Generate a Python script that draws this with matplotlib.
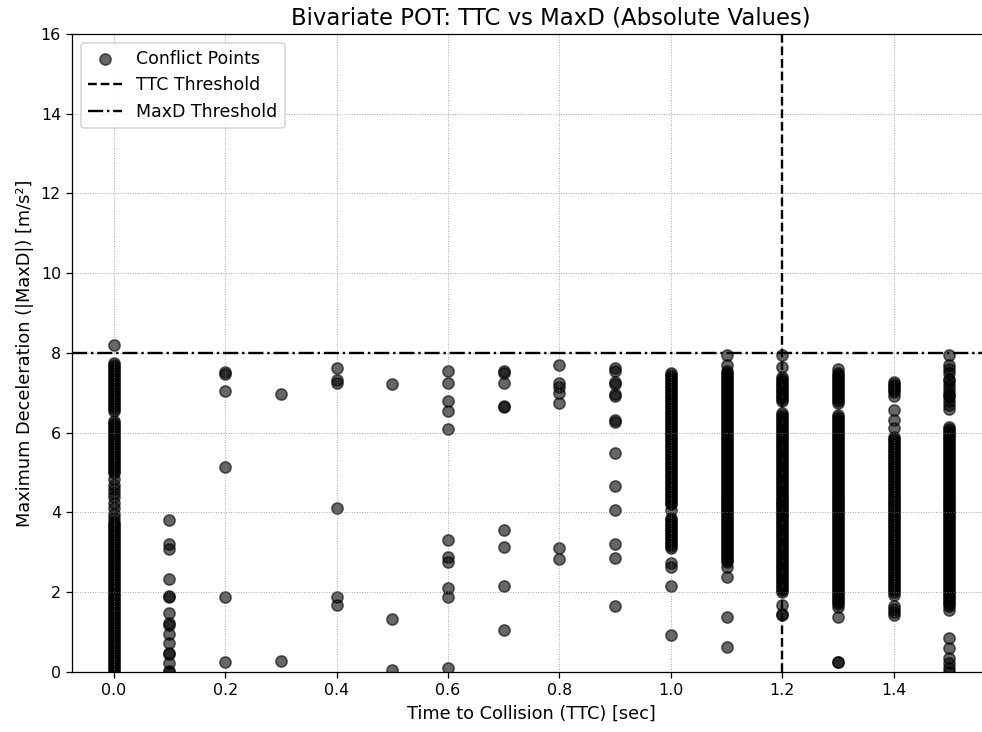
import numpy as np
import matplotlib
matplotlib.use("Agg")
import matplotlib.pyplot as plt

# --- Data: |MaxD| values read per TTC column ---
ttc_levels = [0.0, 0.1, 0.2, 0.3, 0.4, 0.5, 0.6, 0.7, 0.8, 0.9, 1.0, 1.1, 1.2, 1.3, 1.4, 1.5]

maxd_00 = [8.2,
           7.75, 7.7, 7.65, 7.6, 7.55, 7.5, 7.45, 7.4, 7.35, 7.3, 7.25, 7.2, 7.15, 7.1, 7.05,
           7.0, 6.95, 6.9, 6.85, 6.8, 6.75, 6.7, 6.65, 6.6, 6.55,
           6.3, 6.25, 6.2, 6.15, 6.1, 6.05, 6.0, 5.95, 5.9, 5.85, 5.8, 5.75, 5.7, 5.65, 5.6,
           5.55, 5.5, 5.45, 5.4, 5.35, 5.3, 5.25, 5.2, 5.15, 5.1, 5.05, 5.0,
           4.85, 4.7, 4.6, 4.5, 4.4, 4.25, 4.1, 3.95, 3.85,
           3.75, 3.7, 3.65, 3.6, 3.55, 3.5, 3.45, 3.4, 3.35, 3.3, 3.25, 3.2, 3.15, 3.1, 3.05,
           3.0, 2.95, 2.9, 2.85, 2.8, 2.75, 2.7, 2.65, 2.6, 2.55, 2.5, 2.45, 2.4, 2.35, 2.3,
           2.25, 2.2, 2.15, 2.1, 2.05, 2.0, 1.95, 1.9, 1.85, 1.8, 1.75, 1.7, 1.65, 1.6, 1.55,
           1.5, 1.45, 1.4, 1.35, 1.3, 1.25, 1.2, 1.15, 1.1, 1.05, 1.0, 0.95, 0.9, 0.85, 0.8,
           0.75, 0.7, 0.65, 0.6, 0.55, 0.5, 0.45, 0.4, 0.35, 0.3, 0.25, 0.2, 0.15, 0.1, 0.05, 0.0]
maxd_01 = [3.82, 3.2, 3.08, 2.32, 1.9, 1.88, 1.48, 1.22, 1.18, 0.94, 0.72, 0.48, 0.45, 0.22, 0.02, 0.0]
maxd_02 = [7.52, 7.47, 7.05, 5.15, 1.88, 0.25]
maxd_03 = [6.97, 0.28]
maxd_04 = [7.62, 7.32, 7.25, 4.11, 1.88, 1.68]
maxd_05 = [7.22, 1.33, 0.05]
maxd_06 = [7.55, 7.25, 6.8, 6.55, 6.1, 3.31, 2.89, 2.76, 2.11, 1.88, 0.1]
maxd_07 = [7.55, 7.5, 7.25, 6.67, 6.64, 3.56, 3.14, 2.16, 1.05]
maxd_08 = [7.7, 7.25, 7.15, 7.0, 6.75, 3.1, 2.83]
maxd_09 = [7.62, 7.55, 7.27, 7.23, 6.97, 6.93, 6.32, 6.28, 5.49, 4.67, 4.06, 3.21, 2.86, 1.66]
maxd_10 = [7.5, 7.45, 7.4, 7.35, 7.3, 7.25, 7.2, 7.15, 7.1, 7.05, 7.0, 6.95, 6.9, 6.85, 6.8,
           6.75, 6.7, 6.65, 6.6, 6.55, 6.5, 6.45, 6.4, 6.35, 6.3, 6.25, 6.2, 6.15, 6.1, 6.05,
           6.0, 5.95, 5.9, 5.85, 5.8, 5.75, 5.7, 5.65, 5.6, 5.55, 5.5, 5.45, 5.4, 5.35, 5.3,
           5.25, 5.2, 5.15, 5.1, 5.05, 5.0, 4.95, 4.9, 4.85, 4.8, 4.75, 4.7, 4.65, 4.6, 4.55,
           4.5, 4.45, 4.4, 4.35, 4.3, 4.25, 4.2, 4.05,
           3.85, 3.8, 3.75, 3.7, 3.65, 3.6, 3.55, 3.5, 3.45, 3.4, 3.35, 3.3, 3.25, 3.2, 3.15,
           3.1, 2.73, 2.63, 2.16, 0.93]
maxd_11 = [7.95, 7.7,
           7.55, 7.5, 7.45, 7.4, 7.35, 7.3, 7.25, 7.2, 7.15, 7.1, 7.05, 7.0, 6.95, 6.9, 6.85,
           6.8, 6.75, 6.7, 6.65, 6.6, 6.55, 6.5, 6.45, 6.4, 6.35, 6.3, 6.25, 6.2, 6.15, 6.1,
           6.05, 6.0, 5.95, 5.9, 5.85, 5.8, 5.75, 5.7, 5.65, 5.6, 5.55, 5.5, 5.45, 5.4, 5.35,
           5.3, 5.25, 5.2, 5.15, 5.1, 5.05, 5.0, 4.95, 4.9, 4.85, 4.8, 4.75, 4.7, 4.65, 4.6,
           4.55, 4.5, 4.45, 4.4, 4.35, 4.3, 4.25, 4.2, 4.15, 4.1, 4.05, 4.0, 3.95, 3.9, 3.85,
           3.8, 3.75, 3.7, 3.65, 3.6, 3.55, 3.5, 3.45, 3.4, 3.35, 3.3, 3.25, 3.2, 3.15, 3.1,
           3.05, 3.0, 2.95, 2.9, 2.85, 2.8, 2.75,
           2.63, 2.39, 1.38, 0.63]
maxd_12 = [7.95, 7.65,
           7.4, 7.35, 7.3, 7.25, 7.2, 7.15, 7.1, 7.05, 7.0, 6.95, 6.9, 6.85, 6.8,
           6.5, 6.45, 6.4, 6.35, 6.3, 6.25, 6.2, 6.15, 6.1, 6.05, 6.0, 5.95, 5.9, 5.85, 5.8,
           5.75, 5.7, 5.65, 5.6, 5.55, 5.5, 5.45, 5.4, 5.35, 5.3, 5.25, 5.2, 5.15, 5.1, 5.05,
           5.0, 4.95, 4.9, 4.85, 4.8, 4.75, 4.7, 4.65, 4.6, 4.55, 4.5, 4.45, 4.4, 4.35, 4.3,
           4.25, 4.2, 4.15, 4.1, 4.05, 4.0, 3.95, 3.9, 3.85, 3.8, 3.75, 3.7, 3.65, 3.6, 3.55,
           3.5, 3.45, 3.4, 3.35, 3.3, 3.25, 3.2, 3.15, 3.1, 3.05, 3.0, 2.95, 2.9, 2.85, 2.8,
           2.75, 2.7, 2.65, 2.6, 2.55, 2.5, 2.45, 2.4, 2.35, 2.3, 2.25, 2.2, 2.15, 2.1, 2.05, 2.0,
           1.68, 1.45, 1.42]
maxd_13 = [7.6, 7.5, 7.45, 7.4, 7.35, 7.3, 7.25, 7.2, 7.15, 7.1, 7.05, 7.0, 6.95, 6.9, 6.85,
           6.8, 6.75,
           6.45, 6.4, 6.35, 6.3, 6.25, 6.2, 6.15, 6.1, 6.05, 6.0, 5.95, 5.9, 5.85, 5.8, 5.75,
           5.7, 5.65, 5.6, 5.55, 5.5, 5.45, 5.4, 5.35, 5.3, 5.25, 5.2, 5.15, 5.1, 5.05, 5.0,
           4.95, 4.9, 4.85, 4.8, 4.75, 4.7, 4.65, 4.6, 4.55, 4.5, 4.45, 4.4, 4.35, 4.3, 4.25,
           4.2, 4.15, 4.1, 4.05, 4.0, 3.95, 3.9, 3.85, 3.8, 3.75, 3.7, 3.65, 3.6, 3.55, 3.5,
           3.45, 3.4, 3.35, 3.3, 3.25, 3.2, 3.15, 3.1, 3.05, 3.0, 2.95, 2.9, 2.85, 2.8, 2.75,
           2.7, 2.65, 2.6, 2.55, 2.5, 2.45, 2.4, 2.35, 2.3, 2.25, 2.2, 2.15, 2.1, 2.05, 2.0,
           1.95, 1.9, 1.85, 1.8, 1.75, 1.7,
           1.62, 1.38, 0.26, 0.24]
maxd_14 = [7.27, 7.22, 7.17, 7.12, 7.07, 7.02, 6.93, 6.57, 6.32, 6.12,
           5.9, 5.85, 5.8, 5.75, 5.7, 5.65, 5.6, 5.55, 5.5, 5.45, 5.4, 5.35, 5.3, 5.25, 5.2,
           5.15, 5.1, 5.05, 5.0, 4.95, 4.9, 4.85, 4.8, 4.75, 4.7, 4.65, 4.6, 4.55, 4.5, 4.45,
           4.4, 4.35,
           4.3, 4.25, 4.2, 4.15, 4.1, 4.05, 4.0, 3.95, 3.9, 3.85, 3.8, 3.75, 3.7, 3.65, 3.6,
           3.55, 3.5, 3.45, 3.4, 3.35, 3.3, 3.25, 3.2, 3.15, 3.1, 3.05, 3.0, 2.95, 2.9, 2.85,
           2.8, 2.75, 2.7, 2.65, 2.6, 2.55, 2.5, 2.45, 2.4, 2.35, 2.3, 2.25, 2.2, 2.15, 2.1,
           2.05, 2.0, 1.93, 1.65, 1.58, 1.5, 1.42]
maxd_15 = [7.95, 7.7, 7.6, 7.5, 7.35, 7.3, 7.2, 7.1, 7.0, 6.95, 6.9, 6.8, 6.7, 6.6,
           6.15, 6.1, 6.05, 6.0, 5.95, 5.9, 5.85, 5.8, 5.75, 5.7, 5.65, 5.6, 5.55, 5.5, 5.45,
           5.4, 5.35, 5.3, 5.25, 5.2, 5.15, 5.1, 5.05, 5.0, 4.95, 4.9, 4.85, 4.8, 4.75, 4.7,
           4.65, 4.6, 4.55, 4.5, 4.45, 4.4, 4.35, 4.3, 4.25, 4.2, 4.15, 4.1, 4.05, 4.0, 3.95,
           3.9, 3.85, 3.8, 3.75, 3.7, 3.65, 3.6, 3.55, 3.5, 3.45, 3.4, 3.35, 3.3, 3.25, 3.2,
           3.15, 3.1, 3.05, 3.0, 2.95, 2.9, 2.85, 2.8, 2.75, 2.7, 2.65, 2.6, 2.55, 2.5, 2.45,
           2.4, 2.35, 2.3, 2.25, 2.2, 2.15, 2.1, 2.05, 2.0, 1.95, 1.9, 1.85, 1.8, 1.75, 1.7,
           1.65, 1.55, 0.85, 0.6, 0.35, 0.22, 0.1, 0.0]

columns = [maxd_00, maxd_01, maxd_02, maxd_03, maxd_04, maxd_05, maxd_06, maxd_07,
           maxd_08, maxd_09, maxd_10, maxd_11, maxd_12, maxd_13, maxd_14, maxd_15]

ttc_threshold = 1.2
maxd_threshold = 8

ttc = np.concatenate([[t] * len(v) for t, v in zip(ttc_levels, columns)])
maxd = np.concatenate([np.array(v, dtype=float) for v in columns])

# --- Plot ---
dpi = 114
fig = plt.figure(figsize=(982 / dpi, 732 / dpi), dpi=dpi)
# axes run a little past the right edge of the image (the reference is cropped there)
ax = fig.add_axes([0.0733, 0.082, 0.936, 0.8716])

ax.scatter(ttc, maxd, s=50, color='black', alpha=0.6, label='Conflict Points')
ax.axvline(ttc_threshold, color='black', linestyle='--', linewidth=1.5, label='TTC Threshold')
ax.axhline(maxd_threshold, color='black', linestyle='-.', linewidth=1.5, label='MaxD Threshold')

ax.set_xlim(-0.075, 1.575)
ax.set_ylim(0, 16)
ax.set_xlabel('Time to Collision (TTC) [sec]', fontsize=11.2)
ax.set_ylabel('Maximum Deceleration (|MaxD|) [m/s²]', fontsize=11.2)
ax.set_title('Bivariate POT: TTC vs MaxD (Absolute Values)', fontsize=14.4, x=0.521)
ax.tick_params(labelsize=10)
ax.grid(True, linestyle=':', linewidth=0.6, color='gray', alpha=0.7)
ax.legend(loc='upper left', fontsize=11)

fig.savefig('out.png', dpi=dpi)
